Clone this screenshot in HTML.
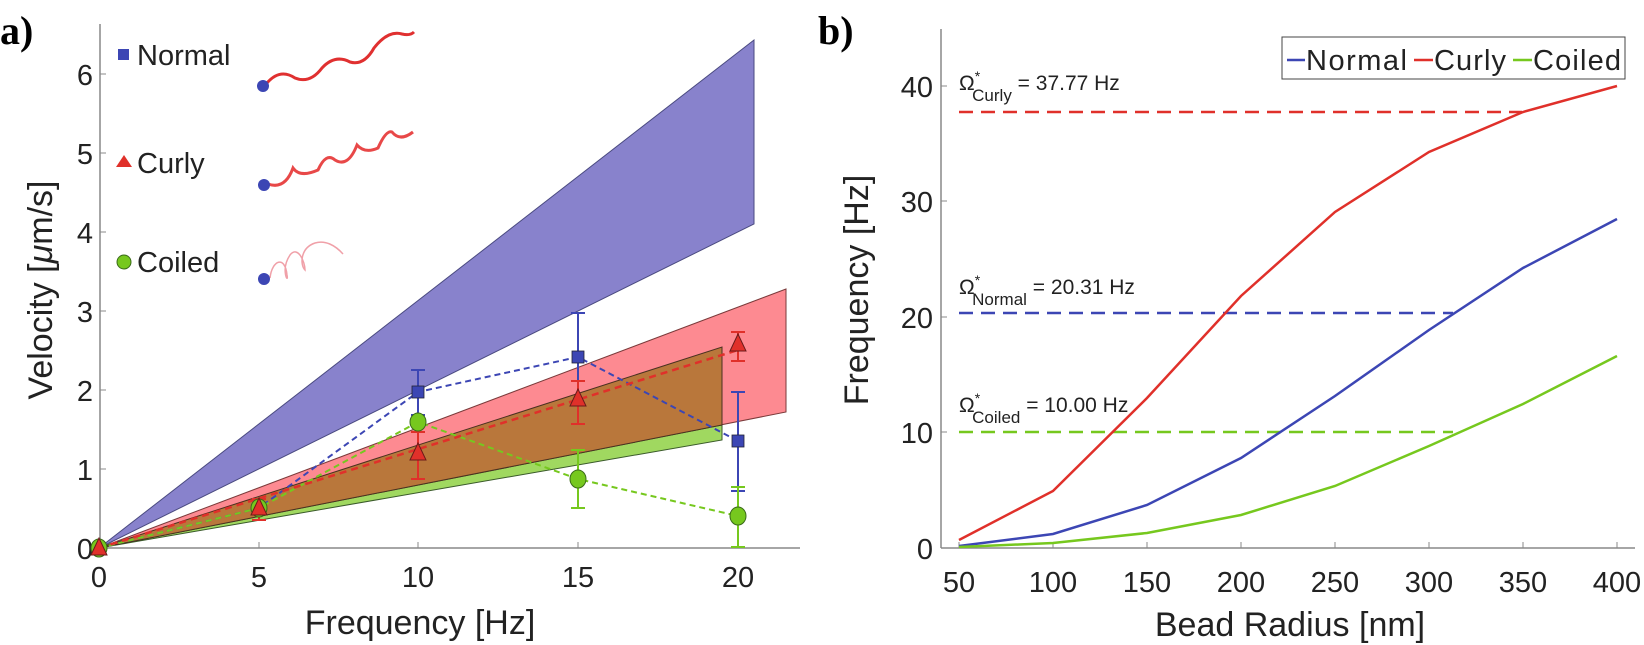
<!DOCTYPE html>
<html><head><meta charset="utf-8"><style>
body{margin:0;background:#fff;}
svg{display:block;font-family:"Liberation Sans",sans-serif;}
</style></head><body>
<svg width="1644" height="645" viewBox="0 0 1644 645" xmlns="http://www.w3.org/2000/svg">
<text x="0" y="44" font-family="Liberation Serif,serif" font-weight="bold" font-size="40">a)</text>
<text x="818" y="44" font-family="Liberation Serif,serif" font-weight="bold" font-size="40">b)</text>

<g>
<polygon points="99,548 754,40 754,224" fill="#8882cc" stroke="#4a4a80" stroke-width="1"/>
<polygon points="99,548 786,289 786,412" fill="#fd8a91" stroke="#7a3a3a" stroke-width="1"/>
<polygon points="99,548 722,440 722,425 " fill="#a0d860" stroke="#3a5a2a" stroke-width="1"/>
<polygon points="99,548 722,347 722,425" fill="#b9773b" stroke="#4a3020" stroke-width="1"/>

<line x1="100" y1="24" x2="100" y2="548" stroke="#888" stroke-width="1.5"/>
<line x1="100" y1="548" x2="800" y2="548" stroke="#888" stroke-width="1.5"/>
<g stroke="#888" stroke-width="1">
<line x1="100" y1="469" x2="106" y2="469"/><line x1="100" y1="390" x2="106" y2="390"/>
<line x1="100" y1="311" x2="106" y2="311"/><line x1="100" y1="232" x2="106" y2="232"/>
<line x1="100" y1="153" x2="106" y2="153"/><line x1="100" y1="74" x2="106" y2="74"/>
<line x1="259" y1="548" x2="259" y2="542"/><line x1="418" y1="548" x2="418" y2="542"/>
<line x1="578" y1="548" x2="578" y2="542"/><line x1="738" y1="548" x2="738" y2="542"/>
</g>
<g font-size="29" fill="#222" text-anchor="end">
<text x="93" y="559">0</text><text x="93" y="480">1</text><text x="93" y="401">2</text>
<text x="93" y="322">3</text><text x="93" y="243">4</text><text x="93" y="164">5</text><text x="93" y="85">6</text>
</g>
<g font-size="29" fill="#222" text-anchor="middle">
<text x="99" y="587">0</text><text x="259" y="587">5</text><text x="418" y="587">10</text>
<text x="578" y="587">15</text><text x="738" y="587">20</text>
</g>
<text x="420" y="634" font-size="34" fill="#222" text-anchor="middle">Frequency [Hz]</text>
<text transform="translate(52,290) rotate(-90)" font-size="34" fill="#222" text-anchor="middle">Velocity [<tspan font-style="italic">μ</tspan>m/s]</text>

<polyline points="99,548 259,508 418,392 578,357 738,441" fill="none" stroke="#3c46b4" stroke-width="2" stroke-dasharray="6,4"/>
<polyline points="99,548 259,508 418,422 578,479 738,516" fill="none" stroke="#76c81e" stroke-width="2" stroke-dasharray="6,4"/>
<line x1="99" y1="548" x2="738" y2="350" stroke="#e0302a" stroke-width="2.5" stroke-dasharray="7,5"/>

<g stroke="#3c46b4" stroke-width="2">
<line x1="418" y1="370" x2="418" y2="415"/><line x1="411" y1="370" x2="425" y2="370"/><line x1="411" y1="415" x2="425" y2="415"/>
<line x1="578" y1="313" x2="578" y2="398"/><line x1="571" y1="313" x2="585" y2="313"/>
<line x1="738" y1="392" x2="738" y2="491"/><line x1="731" y1="392" x2="745" y2="392"/><line x1="731" y1="491" x2="745" y2="491"/>
</g>
<g stroke="#76c81e" stroke-width="2">
<line x1="418" y1="414" x2="418" y2="445"/>
<line x1="578" y1="450" x2="578" y2="508"/><line x1="571" y1="450" x2="585" y2="450"/><line x1="571" y1="508" x2="585" y2="508"/>
<line x1="738" y1="487" x2="738" y2="548"/><line x1="731" y1="487" x2="745" y2="487"/><line x1="731" y1="547" x2="745" y2="547"/>
</g>
<g stroke="#e0302a" stroke-width="2">
<line x1="259" y1="499" x2="259" y2="520"/><line x1="252" y1="499" x2="266" y2="499"/><line x1="252" y1="520" x2="266" y2="520"/>
<line x1="418" y1="432" x2="418" y2="479"/><line x1="411" y1="432" x2="425" y2="432"/><line x1="411" y1="479" x2="425" y2="479"/>
<line x1="578" y1="381" x2="578" y2="424"/><line x1="571" y1="381" x2="585" y2="381"/><line x1="571" y1="424" x2="585" y2="424"/>
<line x1="738" y1="332" x2="738" y2="361"/><line x1="731" y1="332" x2="745" y2="332"/><line x1="731" y1="361" x2="745" y2="361"/>
</g>
<g fill="#3c46b4" stroke="#223" stroke-width="0.8">
<rect x="412" y="386" width="12" height="12"/><rect x="572" y="351" width="12" height="12"/><rect x="732" y="435" width="12" height="12"/>
</g>
<g fill="#76c81e" stroke="#3a6a1a" stroke-width="1">
<ellipse cx="418" cy="422" rx="8" ry="9"/><ellipse cx="578" cy="479" rx="8" ry="9"/><ellipse cx="738" cy="516" rx="8" ry="9"/>
<ellipse cx="259" cy="508" rx="8" ry="9"/><ellipse cx="99" cy="548" rx="8" ry="9"/>
</g>
<g fill="#e0302a" stroke="#6a1a1a" stroke-width="1">
<polygon points="259,498 251,515 267,515"/><polygon points="418,443 410,460 426,460"/>
<polygon points="578,389 570,406 586,406"/><polygon points="738,334 730,351 746,351"/>
<polygon points="99,538 91,555 107,555"/>
</g>

<rect x="118" y="49" width="11" height="11" fill="#3c46b4"/>
<text x="137" y="65" font-size="29" fill="#222">Normal</text>
<polygon points="124,155 116,167 132,167" fill="#e0302a"/>
<text x="137" y="173" font-size="29" fill="#222">Curly</text>
<circle cx="124" cy="262" r="7" fill="#76c81e" stroke="#3a6a1a"/>
<text x="137" y="272" font-size="29" fill="#222">Coiled</text>
<path d="M267,83 Q280,68 295,78 Q310,84 322,68 Q335,54 350,62 Q364,66 374,48 Q388,30 402,34 Q410,36 414,32" fill="none" stroke="#e03030" stroke-width="3"/>
<circle cx="263" cy="86" r="6" fill="#3c46b4"/>
<path d="M268,184 Q285,190 293,168 Q300,178 318,170 Q326,152 335,160 Q348,168 357,145 Q365,154 378,148 Q386,130 392,132 Q400,142 413,132" fill="none" stroke="#e84848" stroke-width="3"/>
<circle cx="264" cy="185" r="6" fill="#3c46b4"/>
<path d="M270,278 C272,260 285,255 287,275 C289,285 280,270 290,255 C298,245 305,262 305,270 C300,265 300,248 315,243 C325,240 335,245 343,254" fill="none" stroke="#f0a0a8" stroke-width="1.5"/>
<circle cx="264" cy="279" r="6" fill="#3c46b4"/>
</g>

<g>
<line x1="941" y1="29" x2="941" y2="548" stroke="#888" stroke-width="1.5"/>
<line x1="941" y1="548" x2="1635" y2="548" stroke="#888" stroke-width="1.5"/>
<g stroke="#888" stroke-width="1">
<line x1="959" y1="548" x2="959" y2="542"/><line x1="1053" y1="548" x2="1053" y2="542"/><line x1="1147" y1="548" x2="1147" y2="542"/>
<line x1="1241" y1="548" x2="1241" y2="542"/><line x1="1335" y1="548" x2="1335" y2="542"/><line x1="1429" y1="548" x2="1429" y2="542"/>
<line x1="1523" y1="548" x2="1523" y2="542"/><line x1="1617" y1="548" x2="1617" y2="542"/>
<line x1="941" y1="432" x2="947" y2="432"/><line x1="941" y1="317" x2="947" y2="317"/>
<line x1="941" y1="201" x2="947" y2="201"/><line x1="941" y1="86" x2="947" y2="86"/>
</g>
<g font-size="29" fill="#222" text-anchor="end">
<text x="933" y="559">0</text><text x="933" y="443">10</text><text x="933" y="328">20</text>
<text x="933" y="212">30</text><text x="933" y="97">40</text>
</g>
<g font-size="29" fill="#222" text-anchor="middle">
<text x="959" y="592">50</text><text x="1053" y="592">100</text><text x="1147" y="592">150</text><text x="1241" y="592">200</text>
<text x="1335" y="592">250</text><text x="1429" y="592">300</text><text x="1523" y="592">350</text><text x="1617" y="592">400</text>
</g>
<text x="1290" y="636" font-size="34" fill="#222" text-anchor="middle">Bead Radius [nm]</text>
<text transform="translate(868,290) rotate(-90)" font-size="34" fill="#222" text-anchor="middle">Frequency [Hz]</text>

<line x1="959" y1="112" x2="1522" y2="112" stroke="#e0302a" stroke-width="2.5" stroke-dasharray="14,8"/>
<line x1="959" y1="313" x2="1453" y2="313" stroke="#3c46b4" stroke-width="2.5" stroke-dasharray="14,8"/>
<line x1="959" y1="432" x2="1453" y2="432" stroke="#76c81e" stroke-width="2.5" stroke-dasharray="14,8"/>
<g font-size="21" fill="#222">
<text x="959" y="90">Ω<tspan dy="-9" font-size="14">*</tspan><tspan dy="20" dx="-8" font-size="17">Curly</tspan><tspan dy="-11"> = 37.77 Hz</tspan></text>
<text x="959" y="294">Ω<tspan dy="-9" font-size="14">*</tspan><tspan dy="20" dx="-8" font-size="17">Normal</tspan><tspan dy="-11"> = 20.31 Hz</tspan></text>
<text x="959" y="412">Ω<tspan dy="-9" font-size="14">*</tspan><tspan dy="20" dx="-8" font-size="17">Coiled</tspan><tspan dy="-11"> = 10.00 Hz</tspan></text>
</g>
<polyline points="959,540 1053,491 1147,398 1241,296 1335,212 1429,152 1523,112 1617,86" fill="none" stroke="#e0302a" stroke-width="2.5"/>
<polyline points="959,546 1053,534 1147,505 1241,458 1335,396 1429,330 1523,268 1617,219" fill="none" stroke="#3c46b4" stroke-width="2.5"/>
<polyline points="959,547 1053,543 1147,533 1241,515 1335,486 1429,446 1523,404 1617,356" fill="none" stroke="#76c81e" stroke-width="2.5"/>
<rect x="1282" y="37" width="343" height="42" fill="#fff" stroke="#444" stroke-width="1"/>
<line x1="1287" y1="60" x2="1305" y2="60" stroke="#3c46b4" stroke-width="2.5"/>
<text x="1306" y="70" font-size="29" fill="#222" textLength="101">Normal</text>
<line x1="1414" y1="60" x2="1433" y2="60" stroke="#e0302a" stroke-width="2.5"/>
<text x="1434" y="70" font-size="29" fill="#222" textLength="72">Curly</text>
<line x1="1513" y1="60" x2="1532" y2="60" stroke="#76c81e" stroke-width="2.5"/>
<text x="1533" y="70" font-size="29" fill="#222" textLength="88">Coiled</text>
</g>
</svg>
</body></html>
